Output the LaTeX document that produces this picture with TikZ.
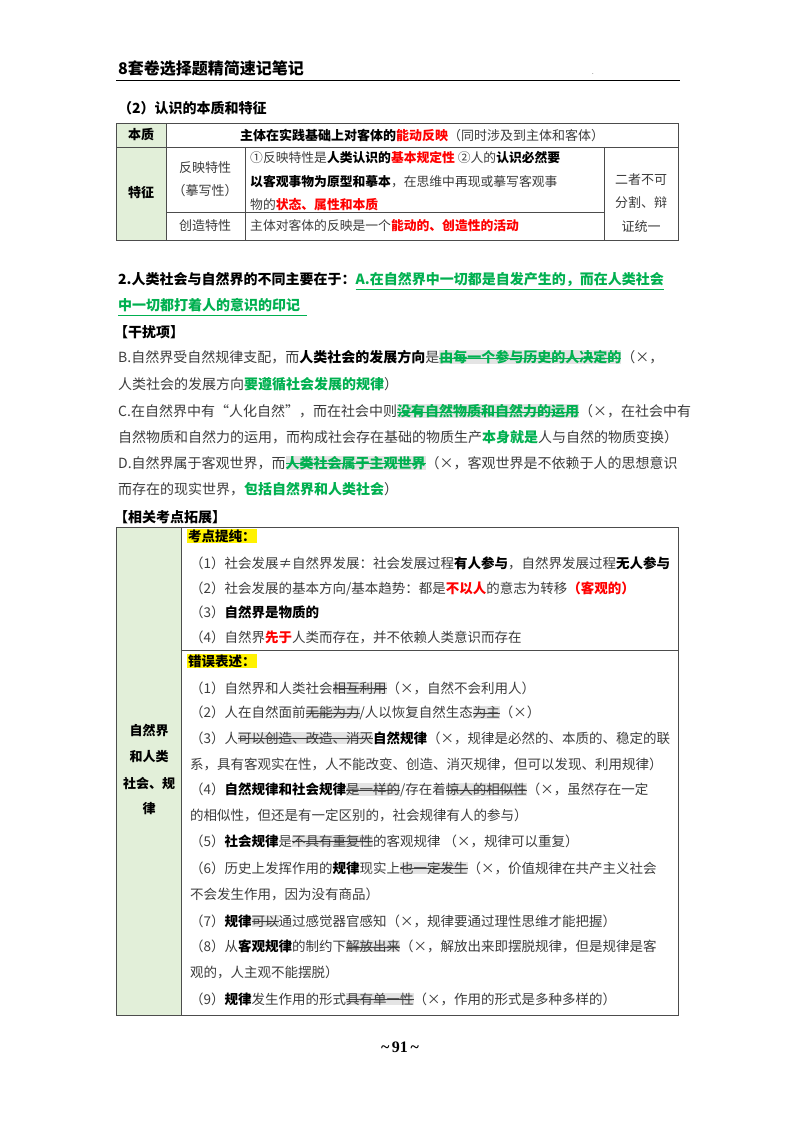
\documentclass[tikz,border=0pt]{standalone}
\usepackage{fontspec}
\setmainfont{Noto Sans CJK SC}
\newfontfamily\serf{Liberation Serif}
\definecolor{gr}{RGB}{0,176,80}
\definecolor{rd}{RGB}{255,0,0}
\definecolor{hl}{RGB}{228,228,228}
\definecolor{lg}{RGB}{226,239,217}
\definecolor{tx}{RGB}{60,60,60}
\newcommand\dl[1]{\begingroup\sbox0{#1}\fboxsep=0pt\colorbox{hl}{\rlap{\usebox0}\rule[0.3em]{\wd0}{0.6pt}}\endgroup}
\newcommand\ulg[1]{\begingroup\sbox0{#1}\rlap{\usebox0}\rule[-0.3em]{\wd0}{0.6pt}\endgroup}
\newcommand\hly[1]{{\fboxsep=1pt\colorbox{yellow}{#1}}}
\tikzset{
 ln/.style={anchor=west,inner sep=0pt,text=tx,font=\fontsize{14}{16}\selectfont},
 tl/.style={anchor=west,inner sep=0pt,text=tx,font=\fontsize{13.5}{15}\selectfont},
 tm/.style={anchor=west,inner sep=0pt,text=tx,font=\fontsize{12.8}{15}\selectfont},
 tc/.style={anchor=center,inner sep=0pt,text=tx,font=\fontsize{13}{15}\selectfont},
 frame/.style={draw=black!70,line width=0.8pt}
}
\begin{document}
\begin{tikzpicture}[x=1pt,y=-1pt]
\useasboundingbox[fill=white] (0,0) rectangle (800,1132);
% header
\node[anchor=west,inner sep=0pt,font=\fontsize{16}{18}\selectfont\bfseries] (hd) at (118,68) {8套卷选择题精简速记笔记};
\node[inner sep=0pt,font=\fontsize{6}{6}\selectfont] (dot) at (593,74) {.};
\draw[line width=1pt] (116,80) -- (680,80);
\node[ln,text=black] (s2) at (118,108) {\textbf{（2）认识的本质和特征}};
% table 1
\fill[lg] (116,123) rectangle (166,240);
\draw[frame] (116,123) rectangle (678,240);
\draw[frame] (116,147) -- (678,147);
\draw[frame] (166,123) -- (166,240);
\draw[frame] (245,147) -- (245,240);
\draw[frame] (604,147) -- (604,240);
\draw[frame] (166,212) -- (604,212);
\node[tc,text=black] (bz) at (141,135) {\textbf{本质}};
\node[tc,text=black] (bzt) at (422,135) {\textbf{主体在实践基础上对客体的\textcolor{rd}{能动反映}}\textcolor{tx}{（同时涉及到主体和客体）}};
\node[tc,text=black] (tz) at (141,193) {\textbf{特征}};
\node[tc] (fy1) at (205,168) {反映特性};
\node[tc] (fy2) at (205,191) {（摹写性）};
\node[tc] (cz) at (205,226) {创造特性};
\node[tm] (r1) at (250,158) {①反映特性是\textcolor{black}{\textbf{人类认识的}}\textcolor{rd}{\textbf{基本规定性}} ②人的\textcolor{black}{\textbf{认识必然要}}};
\node[tm] (r2) at (250,182) {\textcolor{black}{\textbf{以客观事物为原型和摹本}}，在思维中再现或摹写客观事};
\node[tm] (r3) at (250,205) {物的\textcolor{rd}{\textbf{状态、属性和本质}}};
\node[tm] (r4) at (250,226) {主体对客体的反映是一个\textcolor{rd}{\textbf{能动的、创造性的活动}}};
\node[tc] (e1) at (641,180) {二者不可};
\node[tc] (e2) at (641,203) {分割、辩};
\node[tc] (e3) at (641,227) {证统一};
% section 2
\node[ln,text=black] (a1) at (118,281) {\textbf{2.人类社会与自然界的不同主要在于：}\textcolor{gr}{\ulg{\textbf{A.在自然界中一切都是自发产生的，而在人类社会}}}};
\node[ln,text=gr] (a2) at (118,307) {\ulg{\textbf{中一切都打着人的意识的印记\ \ }}};
\node[ln,text=black] (gr) at (114,332) {\textbf{【干扰项】}};
\node[ln] (b1) at (118,357) {B.自然界受自然规律支配，而\textcolor{black}{\textbf{人类社会的发展方向}}是\textcolor{gr}{\dl{\textbf{由每一个参与历史的人决定的}}}（×，};
\node[ln] (b2) at (118,384) {人类社会的发展方向\textcolor{gr}{\textbf{要遵循社会发展的规律}}）};
\node[ln] (c1) at (118,411) {C.在自然界中有“人化自然”，而在社会中则\textcolor{gr}{\dl{\textbf{没有自然物质和自然力的运用}}}（×，在社会中有};
\node[ln] (c2) at (118,437) {自然物质和自然力的运用，而构成社会存在基础的物质生产\textcolor{gr}{\textbf{本身就是}}人与自然的物质变换）};
\node[ln] (d1) at (118,463) {D.自然界属于客观世界，而\textcolor{gr}{\dl{\textbf{人类社会属于主观世界}}}（×，客观世界是不依赖于人的思想意识};
\node[ln] (d2) at (118,489) {而存在的现实世界，\textcolor{gr}{\textbf{包括自然界和人类社会}}）};
\node[ln,text=black] (xg) at (114,517) {\textbf{【相关考点拓展】}};
% table 2
\fill[lg] (116,527) rectangle (181,1015);
\draw[frame] (116,527) rectangle (678,1015);
\draw[frame] (181,527) -- (181,1015);
\draw[frame] (181,650) -- (678,650);
\node[tc,text=black] (L1) at (149,731) {\textbf{自然界}};
\node[tc,text=black] (L2) at (149,757) {\textbf{和人类}};
\node[tc,text=black] (L3) at (149,783) {\textbf{社会、规}};
\node[tc,text=black] (L4) at (149,809) {\textbf{律}};
\node[tl,text=black] (k0) at (187,536) {\hly{\textbf{考点提纯：}}};
\node[tl] (k1) at (190,563) {（1）社会发展≠自然界发展：社会发展过程\textcolor{black}{\textbf{有人参与}}，自然界发展过程\textcolor{black}{\textbf{无人参与}}};
\node[tl] (k2) at (190,589) {（2）社会发展的基本方向/基本趋势：都是\textcolor{rd}{\textbf{不以人}}的意志为转移\textcolor{rd}{\textbf{（客观的）}}};
\node[tl] (k3) at (190,612) {（3）\textcolor{black}{\textbf{自然界是物质的}}};
\node[tl] (k4) at (190,637) {（4）自然界\textcolor{rd}{\textbf{先于}}人类而存在，并不依赖人类意识而存在};
\node[tl,text=black] (w0) at (187,661) {\hly{\textbf{错误表述：}}};
\node[tl] (w1) at (190,688) {（1）自然界和人类社会\dl{相互利用}（×，自然不会利用人）};
\node[tl] (w2) at (190,713) {（2）人在自然面前\dl{无能为力}/人以恢复自然生态\dl{为主}（×）};
\node[tl] (w3) at (190,738) {（3）人\dl{可以创造、改造、消灭}\textcolor{black}{\textbf{自然规律}}（×，规律是必然的、本质的、稳定的联};
\node[tl] (w3b) at (190,764) {系，具有客观实在性，人不能改变、创造、消灭规律，但可以发现、利用规律）};
\node[tl] (w4) at (190,790) {（4）\textcolor{black}{\textbf{自然规律和社会规律}}\dl{是一样的}/存在着\dl{惊人的相似性}（×，虽然存在一定};
\node[tl] (w4b) at (190,815) {的相似性，但还是有一定区别的，社会规律有人的参与）};
\node[tl] (w5) at (190,841) {（5）\textcolor{black}{\textbf{社会规律}}是\dl{不具有重复性}的客观规律 （×，规律可以重复）};
\node[tl] (w6) at (190,868) {（6）历史上发挥作用的\textcolor{black}{\textbf{规律}}现实上\dl{也一定发生}（×，价值规律在共产主义社会};
\node[tl] (w6b) at (190,894) {不会发生作用，因为没有商品）};
\node[tl] (w7) at (190,921) {（7）\textcolor{black}{\textbf{规律}}\dl{可以}通过感觉器官感知（×，规律要通过理性思维才能把握）};
\node[tl] (w8) at (190,946) {（8）从\textcolor{black}{\textbf{客观规律}}的制约下\dl{解放出来}（×，解放出来即摆脱规律，但是规律是客};
\node[tl] (w8b) at (190,972) {观的，人主观不能摆脱）};
\node[tl] (w9) at (190,999) {（9）\textcolor{black}{\textbf{规律}}发生作用的形式\dl{具有单一性}（×，作用的形式是多种多样的）};
\node[inner sep=0pt,font=\serf\bfseries\fontsize{16}{18}\selectfont] (pg) at (400,1047) {\char`\~\,91\,\char`\~};
\end{tikzpicture}
\end{document}
